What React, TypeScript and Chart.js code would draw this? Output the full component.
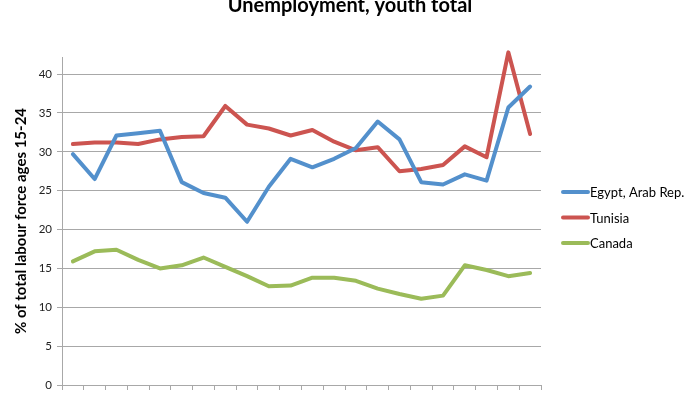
import React, { useEffect, useRef } from "react";
import { Chart, registerables } from "chart.js";

Chart.register(...registerables);

const TITLE = "Unemployment, youth total";
const Y_TITLE = "% of total labour force ages 15-24";
const YEARS = [
  "1991", "1992", "1993", "1994", "1995", "1996", "1997", "1998", "1999", "2000", "2001",
  "2002", "2003", "2004", "2005", "2006", "2007", "2008", "2009", "2010", "2011", "2012",
];
const SERIES_NAMES = ["Egypt, Arab Rep.", "Tunisia", "Canada"];
const EGYPT = [29.7, 26.5, 32.1, 32.4, 32.7, 26.1, 24.7, 24.1, 21.0, 25.5, 29.1, 28.0, 29.1, 30.5, 33.9, 31.6, 26.1, 25.8, 27.1, 26.3, 35.7, 38.4];
const TUNISIA = [31.0, 31.2, 31.2, 31.0, 31.6, 31.9, 32.0, 35.9, 33.5, 33.0, 32.1, 32.8, 31.3, 30.2, 30.6, 27.5, 27.8, 28.3, 30.7, 29.3, 42.8, 32.3];
const CANADA = [15.9, 17.2, 17.4, 16.1, 15.0, 15.4, 16.4, 15.2, 14.0, 12.7, 12.8, 13.8, 13.8, 13.4, 12.4, 11.7, 11.1, 11.5, 15.4, 14.8, 14.0, 14.4];
const COLORS = ["#5390cc", "#cc5450", "#9bbb59"];
const Y_MIN = 0;
const Y_MAX = 42.2;
const Y_STEP = 5;

const FONT = "Lato, 'Open Sans', sans-serif";
const GRID = "#a8a8a8";

const overlayPlugin = {
  id: "overlay",
  afterDraw(chart: any) {
    const ctx = chart.ctx;
    const area = chart.chartArea;
    ctx.save();
    ctx.fillStyle = "#000";
    ctx.font = `bold 20px ${FONT}`;
    ctx.textAlign = "center";
    ctx.textBaseline = "alphabetic";
    ctx.fillText(TITLE, chart.width / 2, 12);

    const x0 = area.right + 22;
    chart.data.datasets.forEach((ds: any, i: number) => {
      const y = 192 + i * 25.5;
      ctx.strokeStyle = ds.borderColor;
      ctx.lineWidth = 4;
      ctx.lineCap = "round";
      ctx.beginPath();
      ctx.moveTo(x0, y);
      ctx.lineTo(x0 + 25, y);
      ctx.stroke();
      ctx.fillStyle = "#000";
      ctx.font = `13px ${FONT}`;
      ctx.textAlign = "left";
      ctx.textBaseline = "middle";
      ctx.fillText(ds.label, x0 + 27, y + 1);
    });
    ctx.restore();
  },
};

export default function App() {
  const ref = useRef<HTMLCanvasElement | null>(null);

  useEffect(() => {
    document.body.style.margin = "0";
    const canvas = ref.current;
    if (!canvas) return;
    const series = [EGYPT, TUNISIA, CANADA];
    const chart = new Chart(canvas, {
      type: "line",
      data: {
        labels: YEARS,
        datasets: series.map((d, i) => ({
          label: SERIES_NAMES[i],
          data: d,
          borderColor: COLORS[i],
          backgroundColor: COLORS[i],
          borderWidth: 4,
          pointRadius: 0,
          tension: 0,
          borderJoinStyle: "round" as const,
          borderCapStyle: "round" as const,
          clip: false as any,
        })),
      },
      options: {
        animation: false,
        responsive: false,
        maintainAspectRatio: false,
        layout: { padding: { left: 0, right: 159, top: 57, bottom: 0 } },
        plugins: {
          legend: { display: false },
          title: { display: false },
          tooltip: { enabled: false },
        },
        scales: {
          x: {
            type: "category",
            offset: true,
            grid: {
              offset: true,
              drawOnChartArea: false,
              drawTicks: true,
              tickLength: 5,
              color: GRID,
            },
            border: { color: GRID, width: 1 },
            ticks: { display: false },
            afterFit: (scale: any) => {
              scale.height = 9;
              scale.paddingLeft = 0;
              scale.paddingRight = 0;
            },
          },
          y: {
            min: Y_MIN,
            max: Y_MAX,
            ticks: {
              stepSize: Y_STEP,
              padding: 5,
              color: "#222",
              font: { family: FONT, size: 11.5 },
            },
            afterBuildTicks: (scale: any) => {
              scale.ticks = scale.ticks.filter((t: any) => Math.abs(t.value % Y_STEP) < 1e-9);
            },
            afterFit: (scale: any) => {
              scale.width = 62;
              scale.paddingTop = 0;
              scale.paddingBottom = 0;
            },
            grid: { color: GRID, tickLength: 5, drawTicks: true },
            border: { color: GRID, width: 1 },
            title: {
              display: true,
              text: Y_TITLE,
              color: "#000",
              font: { family: FONT, size: 15, weight: "bold" },
              padding: { top: 12, bottom: 0 },
            },
          },
        },
      },
      plugins: [overlayPlugin],
    });
    return () => chart.destroy();
  }, []);

  return (
    <div style={{ position: "fixed", left: 0, top: 0, width: 700, height: 394, background: "#fff" }}>
      <canvas ref={ref} width={700} height={394} style={{ display: "block", width: 700, height: 394 }} />
    </div>
  );
}
